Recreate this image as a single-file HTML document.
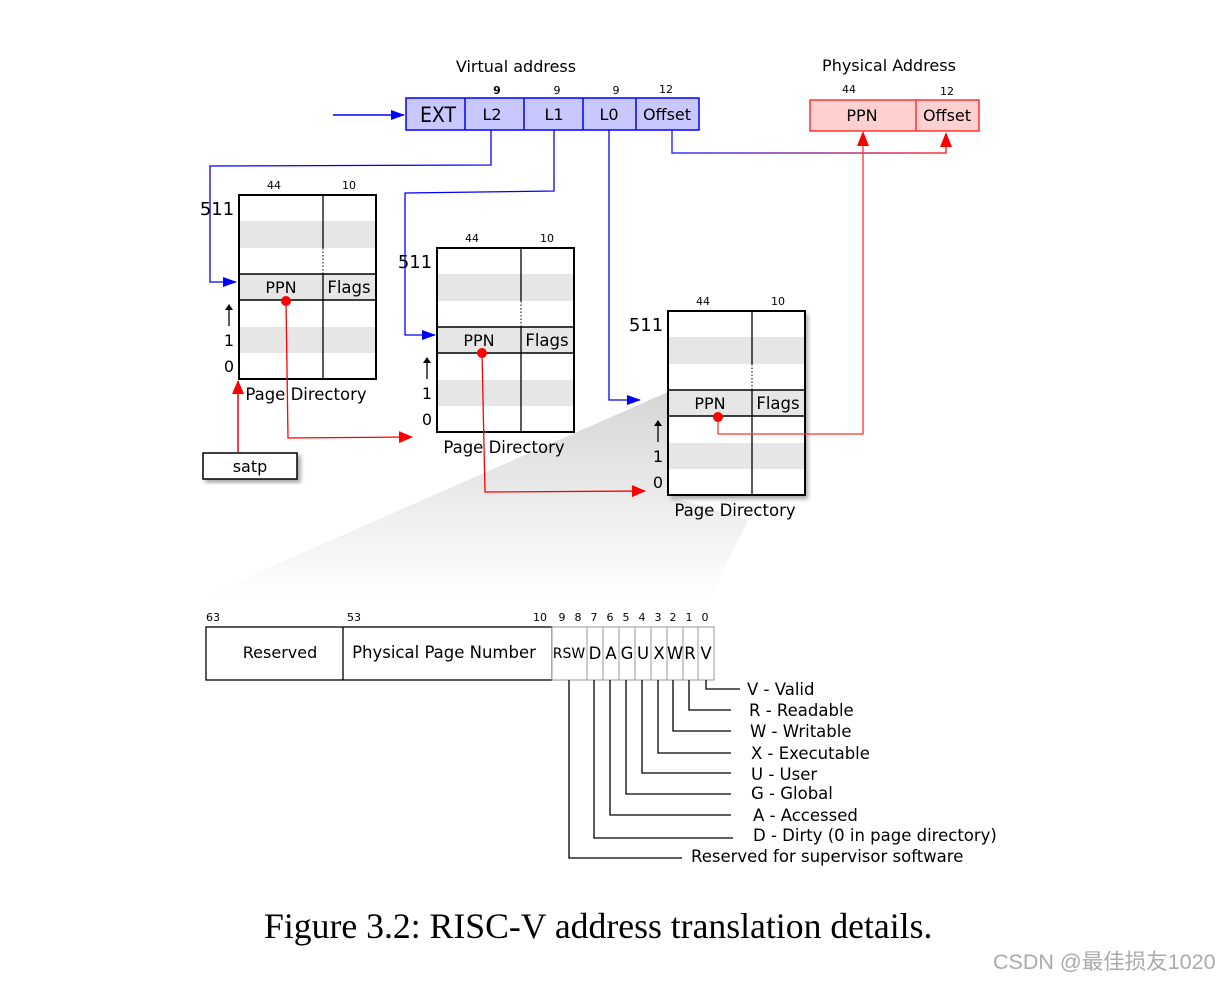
<!DOCTYPE html>
<html><head><meta charset="utf-8"><style>
html,body{margin:0;padding:0;background:#fff;}
svg{display:block;}
text{font-family:"DejaVu Sans","Liberation Sans",sans-serif;fill:#000;}
.s{font-size:11px}
.m{font-size:16px}
.l{font-size:16.5px}
</style></head><body>
<svg width="1231" height="982" viewBox="0 0 1231 982" xmlns="http://www.w3.org/2000/svg">
<defs>
<linearGradient id="fg" x1="0" y1="0" x2="0" y2="1">
<stop offset="0" stop-color="#d6d6d6"/><stop offset="1" stop-color="#ffffff"/>
</linearGradient>
<linearGradient id="pg" x1="0" y1="0" x2="1" y2="0">
<stop offset="0" stop-color="#3333ff"/><stop offset="1" stop-color="#ff3333"/>
</linearGradient>
<marker id="ab" markerWidth="14" markerHeight="10" refX="13" refY="5" orient="auto" markerUnits="userSpaceOnUse"><path d="M0,0 L14,5 L0,10 Z" fill="#0000ff"/></marker>
<marker id="ar" markerWidth="14" markerHeight="12" refX="13" refY="6" orient="auto" markerUnits="userSpaceOnUse"><path d="M0,0 L14,6 L0,12 Z" fill="#ff0000"/></marker>
<marker id="ak" markerWidth="6" markerHeight="8" refX="5" refY="4" orient="auto" markerUnits="userSpaceOnUse"><path d="M0,0 L6,4 L0,8 Z" fill="#000"/></marker>
<filter id="sh" x="-10%" y="-10%" width="130%" height="130%"><feDropShadow dx="3" dy="3" stdDeviation="2" flood-color="#000" flood-opacity="0.35"/></filter>
</defs>

<polygon points="668,392 668,496 748,520 710,598 200,598" fill="url(#fg)"/>

<text x="516" y="72" class="m" text-anchor="middle">Virtual address</text>
<text x="497" y="94" class="s" text-anchor="middle" font-weight="bold">9</text>
<text x="557" y="94" class="s" text-anchor="middle">9</text>
<text x="616" y="94" class="s" text-anchor="middle">9</text>
<text x="666" y="93" class="s" text-anchor="middle">12</text>
<rect x="406" y="98" width="293" height="32" fill="#c8c8ff" stroke="#0000ff" stroke-width="1.5"/>
<g stroke="#0000ff" stroke-width="1.5"><line x1="465" y1="98" x2="465" y2="130"/><line x1="524" y1="98" x2="524" y2="130"/><line x1="583" y1="98" x2="583" y2="130"/><line x1="636" y1="98" x2="636" y2="130"/></g>
<text x="438" y="122" font-size="21" text-anchor="middle" style="font-family:'DejaVu Sans Condensed','DejaVu Sans',sans-serif">EXT</text>
<text x="492" y="120" class="m" text-anchor="middle">L2</text>
<text x="554" y="120" class="m" text-anchor="middle">L1</text>
<text x="609" y="120" class="m" text-anchor="middle">L0</text>
<text x="667" y="120" class="m" text-anchor="middle">Offset</text>
<line x1="333" y1="115" x2="404" y2="115" stroke="#0000ff" stroke-width="1.5" marker-end="url(#ab)"/>

<text x="889" y="71" class="m" text-anchor="middle">Physical Address</text>
<text x="849" y="93" class="s" text-anchor="middle">44</text>
<text x="947" y="95" class="s" text-anchor="middle">12</text>
<rect x="810" y="100" width="169" height="31" fill="#ffd0d0" stroke="#ff3333" stroke-width="1.5"/>
<line x1="916" y1="100" x2="916" y2="131" stroke="#ff3333" stroke-width="1.5"/>
<text x="862" y="121" class="m" text-anchor="middle">PPN</text>
<text x="947" y="121" class="m" text-anchor="middle">Offset</text>

<polyline points="672,130 672,153 946,153 946,134" fill="none" stroke="url(#pg)" stroke-width="1.5"/>
<path d="M940,147 L946,132 L952,147 Z" fill="#ff0000"/>

<polyline points="491,130 491,165 210,166 210,282 236,282" fill="none" stroke="#0000ff" stroke-width="1.3" marker-end="url(#ab)"/>
<polyline points="554,130 554,191 405,193 405,335 435,335" fill="none" stroke="#0000ff" stroke-width="1.3" marker-end="url(#ab)"/>
<polyline points="609,130 609,400 640,400" fill="none" stroke="#0000ff" stroke-width="1.3" marker-end="url(#ab)"/>

<g id="pd1">
<text x="274" y="189" class="s" text-anchor="middle">44</text>
<text x="349" y="189" class="s" text-anchor="middle">10</text>
<rect x="239" y="221" width="137" height="27" fill="#e6e6e6"/>
<rect x="239" y="274" width="137" height="26" fill="#e6e6e6"/>
<rect x="239" y="327" width="137" height="26" fill="#e6e6e6"/>
<rect x="239" y="195" width="137" height="184" fill="none" stroke="#000" stroke-width="2"/>
<line x1="323" y1="195" x2="323" y2="248" stroke="#000" stroke-width="1.3"/>
<line x1="323" y1="248" x2="323" y2="274" stroke="#000" stroke-width="1" stroke-dasharray="1.5,2"/>
<line x1="323" y1="274" x2="323" y2="379" stroke="#000" stroke-width="1.3"/>
<line x1="239" y1="274" x2="376" y2="274" stroke="#000" stroke-width="1.5"/>
<line x1="239" y1="300" x2="376" y2="300" stroke="#000" stroke-width="1.5"/>
<text x="281" y="293" class="m" text-anchor="middle">PPN</text>
<text x="349" y="293" font-size="16.5" text-anchor="middle">Flags</text>
<text x="217" y="215" font-size="18" text-anchor="middle">511</text>
<text x="229" y="346" class="m" text-anchor="middle">1</text>
<text x="229" y="372" class="m" text-anchor="middle">0</text>
<line x1="229" y1="326" x2="229" y2="305" stroke="#000" stroke-width="1.3" marker-end="url(#ak)"/>
<text x="306" y="400" font-size="16.5" text-anchor="middle">Page Directory</text>
</g>
<use href="#pd1" transform="translate(198,53)"/>
<g filter="url(#sh)"><rect x="668" y="311" width="137" height="185" fill="#fff"/></g>
<use href="#pd1" transform="translate(429,116)"/>

<rect x="203" y="453" width="94" height="26" fill="#fff" stroke="#000" stroke-width="1.5" filter="url(#sh)"/>
<text x="250" y="472" class="m" text-anchor="middle">satp</text>
<line x1="238" y1="452" x2="238" y2="381" stroke="#ff0000" stroke-width="1.5" marker-end="url(#ar)"/>

<polyline points="286,301 288,438 412,437" fill="none" stroke="#ff0000" stroke-width="1.3" marker-end="url(#ar)"/>
<polyline points="482,353 485,492 645,491" fill="none" stroke="#ff0000" stroke-width="1.3" marker-end="url(#ar)"/>
<polyline points="718,417 718,434 863,434 863,133" fill="none" stroke="#ff3333" stroke-width="1.3"/>
<path d="M857,146 L863,131 L869,146 Z" fill="#ff0000"/>
<circle cx="286" cy="301" r="5" fill="#ff0000"/>
<circle cx="482" cy="353" r="5" fill="#ff0000"/>
<circle cx="718" cy="417" r="5" fill="#ff0000"/>

<text x="206" y="621" class="s">63</text>
<text x="347" y="621" class="s">53</text>
<text x="540" y="621" class="s" text-anchor="middle">10</text>
<text x="562" y="621" class="s" text-anchor="middle">9</text>
<text x="578" y="621" class="s" text-anchor="middle">8</text>
<text x="594" y="621" class="s" text-anchor="middle">7</text>
<text x="610" y="621" class="s" text-anchor="middle">6</text>
<text x="626" y="621" class="s" text-anchor="middle">5</text>
<text x="642" y="621" class="s" text-anchor="middle">4</text>
<text x="658" y="621" class="s" text-anchor="middle">3</text>
<text x="673" y="621" class="s" text-anchor="middle">2</text>
<text x="689" y="621" class="s" text-anchor="middle">1</text>
<text x="705" y="621" class="s" text-anchor="middle">0</text>
<rect x="206" y="627" width="346" height="53" fill="#fff" stroke="#000" stroke-width="1.3"/>
<line x1="343" y1="627" x2="343" y2="680" stroke="#000" stroke-width="1.3"/>
<g fill="#fff" stroke="#999" stroke-width="1">
<rect x="552" y="627" width="35" height="53"/>
<rect x="587" y="627" width="16" height="53"/>
<rect x="603" y="627" width="16" height="53"/>
<rect x="619" y="627" width="16" height="53"/>
<rect x="635" y="627" width="16" height="53"/>
<rect x="651" y="627" width="16" height="53"/>
<rect x="667" y="627" width="16" height="53"/>
<rect x="683" y="627" width="15" height="53"/>
<rect x="698" y="627" width="16" height="53"/>
</g>
<text x="280" y="658" class="m" text-anchor="middle">Reserved</text>
<text x="444" y="658" font-size="16.5" text-anchor="middle">Physical Page Number</text>
<text x="569" y="658" font-size="14" text-anchor="middle">RSW</text>
<g font-size="16.5" text-anchor="middle">
<text x="595" y="659">D</text><text x="611" y="659">A</text><text x="627" y="659">G</text><text x="643" y="659">U</text><text x="659" y="659">X</text><text x="675" y="659">W</text><text x="690" y="659">R</text><text x="706" y="659">V</text>
</g>

<g fill="none" stroke="#000" stroke-width="1.3">
<polyline points="706,680 706,689 740,689"/>
<polyline points="689,680 689,710 731,710"/>
<polyline points="673,680 673,731 731,731"/>
<polyline points="658,680 658,753 731,753"/>
<polyline points="642,680 642,773 731,773"/>
<polyline points="626,680 626,794 731,794"/>
<polyline points="610,680 610,815 731,815"/>
<polyline points="594,680 594,838 733,838"/>
<polyline points="569,680 569,858 682,858"/>
</g>
<g class="l">
<text x="747" y="695">V - Valid</text>
<text x="749" y="716">R  - Readable</text>
<text x="750" y="737">W - Writable</text>
<text x="751" y="759">X - Executable</text>
<text x="751" y="780">U - User</text>
<text x="751" y="799">G - Global</text>
<text x="753" y="821">A - Accessed</text>
<text x="753" y="841">D - Dirty (0 in page directory)</text>
<text x="691" y="862">Reserved for supervisor software</text>
</g>

<text x="264" y="938" font-size="35.7" style="font-family:'Liberation Serif',serif">Figure 3.2: RISC-V address translation details.</text>
<text x="993" y="969" font-size="21.5" style="font-family:'Liberation Sans','Noto Sans CJK SC',sans-serif;fill:#aaa">CSDN @最佳损友1020</text>
</svg>
</body></html>
